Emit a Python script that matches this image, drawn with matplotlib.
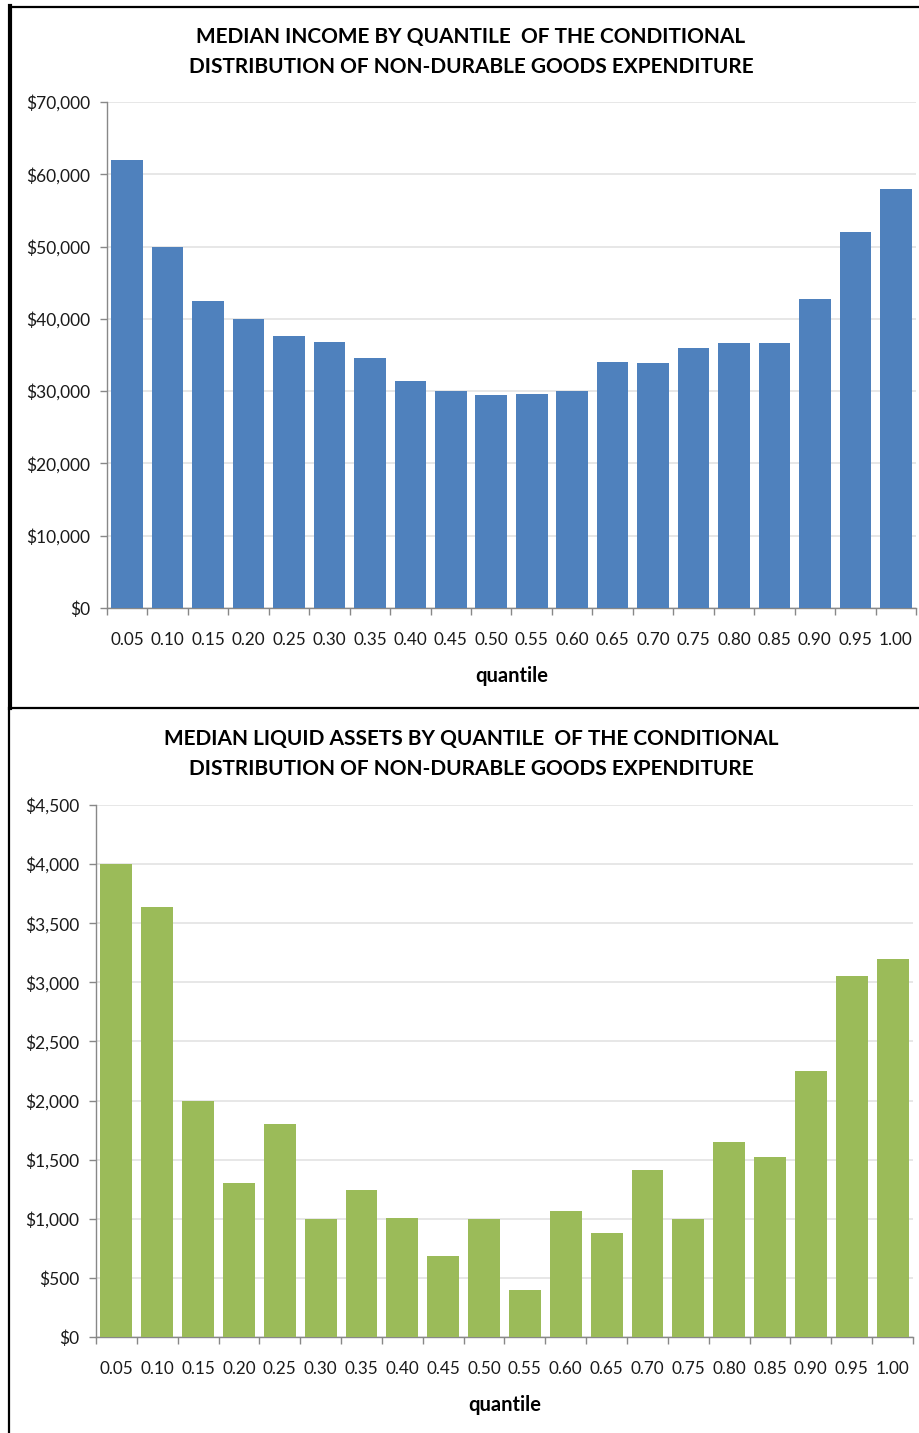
import matplotlib
matplotlib.use("Agg")
import matplotlib.pyplot as plt
from matplotlib.lines import Line2D
from matplotlib.ticker import FuncFormatter, MultipleLocator
import numpy as np

plt.rcParams["font.family"] = ["Lato", "DejaVu Sans"]

quantiles = ["0.05", "0.10", "0.15", "0.20", "0.25", "0.30", "0.35", "0.40", "0.45", "0.50",
             "0.55", "0.60", "0.65", "0.70", "0.75", "0.80", "0.85", "0.90", "0.95", "1.00"]

income = [62000, 50000, 42500, 40000, 37600, 36800, 34600, 31400, 30000, 29500,
          29600, 30000, 34000, 33900, 36000, 36600, 36600, 42750, 52000, 58000]

liquid_assets = [4000, 3640, 2000, 1300, 1800, 1000, 1245, 1010, 685, 1000,
                 400, 1065, 880, 1415, 1000, 1650, 1520, 2250, 3055, 3200]

W, H = 920, 1433
fig = plt.figure(figsize=(W / 100, H / 100), dpi=100)


def px(x, y):
    # pixel position (from top-left) -> figure fraction
    return x / W, 1 - y / H


def bar_panel(rect, values, color, ymax, step, title, title_y):
    ax = fig.add_axes(rect)
    x = np.arange(len(values))
    ax.bar(x, values, width=0.78, color=color, edgecolor="none", zorder=3)
    ax.set_xlim(-0.5, len(values) - 0.5)
    ax.set_ylim(0, ymax)
    ax.yaxis.set_major_locator(MultipleLocator(step))
    ax.yaxis.set_major_formatter(FuncFormatter(lambda v, p: "${:,.0f}".format(v)))
    ax.grid(axis="y", color="#e3e3e3", linewidth=1.2, zorder=0)
    ax.set_axisbelow(True)

    ax.set_xticks(x)
    ax.set_xticklabels(quantiles)
    ax.set_xticks(np.arange(len(values) + 1) - 0.5, minor=True)
    ax.tick_params(axis="x", which="major", length=0, pad=17, labelsize=12.3, labelcolor="#1a1a1a")
    ax.tick_params(axis="x", which="minor", length=5, width=1, color="#888888")
    ax.tick_params(axis="y", length=5, width=1, color="#888888", pad=7, labelsize=12.5,
                   labelcolor="#1a1a1a")

    for side in ["top", "right"]:
        ax.spines[side].set_visible(False)
    for side in ["left", "bottom"]:
        ax.spines[side].set_color("#888888")
        ax.spines[side].set_linewidth(1)

    ax.set_xlabel("quantile", fontsize=14.5, fontweight="bold", labelpad=13)

    t1, t2 = title
    fig.text(*px(471, title_y), t1, ha="center", va="center", fontsize=15, fontweight="bold")
    fig.text(*px(471, title_y + 30), t2, ha="center", va="center", fontsize=15, fontweight="bold")
    return ax


# income panel
l, b = px(107, 608)
r, t = px(916, 102)
bar_panel([l, b, r - l, t - b], income, "#4f81bd", 70000, 10000,
          ("MEDIAN INCOME BY QUANTILE  OF THE CONDITIONAL",
           "DISTRIBUTION OF NON-DURABLE GOODS EXPENDITURE"), 37)

# liquid assets panel
l, b = px(96, 1337)
r, t = px(913, 805)
bar_panel([l, b, r - l, t - b], liquid_assets, "#9bbb59", 4500, 500,
          ("MEDIAN LIQUID ASSETS BY QUANTILE  OF THE CONDITIONAL",
           "DISTRIBUTION OF NON-DURABLE GOODS EXPENDITURE"), 739)


def frame_line(x0, y0, x1, y1, lw):
    a, b0 = px(x0, y0)
    c, d = px(x1, y1)
    fig.add_artist(Line2D([a, c], [b0, d], color="black", linewidth=lw,
                          transform=fig.transFigure))


# frames around the two chart panels
frame_line(10, 7, 925, 7, 1.6)
frame_line(10, 6, 10, 708, 3.0)
frame_line(10, 708, 925, 708, 1.6)
frame_line(9, 708, 9, 1440, 1.6)

fig.savefig("out.png", dpi=100, facecolor="white")
